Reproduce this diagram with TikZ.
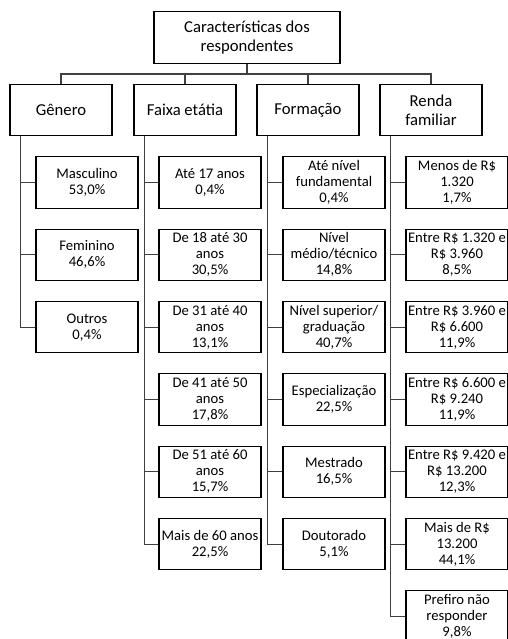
\documentclass[tikz,border=0pt]{standalone}
\usepackage{fontspec}
\setmainfont{Carlito}
\begin{document}
\begin{tikzpicture}[
  x=0.75pt, y=-0.75pt,
  box/.style={draw, line width=0.8pt, inner sep=1pt, align=center, minimum width=76.5pt, minimum height=38.5pt},
  head/.style={box, font=\fontsize{12.5}{14.5}\selectfont},
  item/.style={box, font=\fontsize{11}{12}\selectfont},
  link/.style={draw=black!75, line width=0.8pt}
]
\fill[white] (0,0) rectangle (507,639);
\useasboundingbox (0,0) rectangle (507,639);

% top and categories
\node[head, minimum width=139.5pt] (resp) at (247,37.5) {Características dos\\respondentes};
\node[head] (gen) at (61,110) {Gênero};
\node[head] (faixa) at (185,110) {Faixa etátia};
\node[head] (form) at (308,110) {Formação};
\node[head] (renda) at (431,110) {Renda\\familiar};

% Gênero
\node[item] (masc) at (87,182.5) {Masculino\\53,0\%};
\node[item] (fem) at (87,254.8) {Feminino\\46,6\%};
\node[item] (outros) at (87,327.2) {Outros\\0,4\%};

% Faixa etária
\node[item] (f17) at (210,182.5) {Até 17 anos\\0,4\%};
\node[item] (f30) at (210,254.8) {De 18 até 30\\anos\\30,5\%};
\node[item] (f40) at (210,327.2) {De 31 até 40\\anos\\13,1\%};
\node[item] (f50) at (210,399.5) {De 41 até 50\\anos\\17,8\%};
\node[item] (f60) at (210,471.8) {De 51 até 60\\anos\\15,7\%};
\node[item] (fmais) at (210,544.2) {Mais de 60 anos\\22,5\%};

% Formação
\node[item] (fund) at (334,182.5) {Até nível\\fundamental\\0,4\%};
\node[item] (medio) at (334,254.8) {Nível\\médio/técnico\\14,8\%};
\node[item] (sup) at (334,327.2) {Nível superior/\\graduação\\40,7\%};
\node[item] (espec) at (334,399.5) {Especialização\\22,5\%};
\node[item] (mest) at (334,471.8) {Mestrado\\16,5\%};
\node[item] (dout) at (334,544.2) {Doutorado\\5,1\%};

% Renda familiar
\node[item] (r1) at (457,182.5) {Menos de R\$\\1.320\\1,7\%};
\node[item] (r2) at (457,254.8) {Entre R\$ 1.320 e\\R\$ 3.960\\8,5\%};
\node[item] (r3) at (457,327.2) {Entre R\$ 3.960 e\\R\$ 6.600\\11,9\%};
\node[item] (r4) at (457,399.5) {Entre R\$ 6.600 e\\R\$ 9.240\\11,9\%};
\node[item] (r5) at (457,471.8) {Entre R\$ 9.420 e\\R\$ 13.200\\12,3\%};
\node[item] (r6) at (457,544.2) {Mais de R\$\\13.200\\44,1\%};
\node[item] (r7) at (457,616.5) {Prefiro não\\responder\\9,8\%};

% connectors
\coordinate (bus) at (247,74);
\draw[link] (resp.south) -- (bus);
\draw[link] (bus) -| (gen.north);
\draw[link] (bus) -| (faixa.north);
\draw[link] (bus) -| (form.north);
\draw[link] (bus) -| (renda.north);

\draw[link] ([xshift=8.25pt]gen.south west) |- (masc.west);
\draw[link] ([xshift=8.25pt]gen.south west) |- (fem.west);
\draw[link] ([xshift=8.25pt]gen.south west) |- (outros.west);

\draw[link] ([xshift=8.25pt]faixa.south west) |- (f17.west);
\draw[link] ([xshift=8.25pt]faixa.south west) |- (f30.west);
\draw[link] ([xshift=8.25pt]faixa.south west) |- (f40.west);
\draw[link] ([xshift=8.25pt]faixa.south west) |- (f50.west);
\draw[link] ([xshift=8.25pt]faixa.south west) |- (f60.west);
\draw[link] ([xshift=8.25pt]faixa.south west) |- (fmais.west);

\draw[link] ([xshift=8.25pt]form.south west) |- (fund.west);
\draw[link] ([xshift=8.25pt]form.south west) |- (medio.west);
\draw[link] ([xshift=8.25pt]form.south west) |- (sup.west);
\draw[link] ([xshift=8.25pt]form.south west) |- (espec.west);
\draw[link] ([xshift=8.25pt]form.south west) |- (mest.west);
\draw[link] ([xshift=8.25pt]form.south west) |- (dout.west);

\draw[link] ([xshift=8.25pt]renda.south west) |- (r1.west);
\draw[link] ([xshift=8.25pt]renda.south west) |- (r2.west);
\draw[link] ([xshift=8.25pt]renda.south west) |- (r3.west);
\draw[link] ([xshift=8.25pt]renda.south west) |- (r4.west);
\draw[link] ([xshift=8.25pt]renda.south west) |- (r5.west);
\draw[link] ([xshift=8.25pt]renda.south west) |- (r6.west);
\draw[link] ([xshift=8.25pt]renda.south west) |- (r7.west);
\end{tikzpicture}
\end{document}
